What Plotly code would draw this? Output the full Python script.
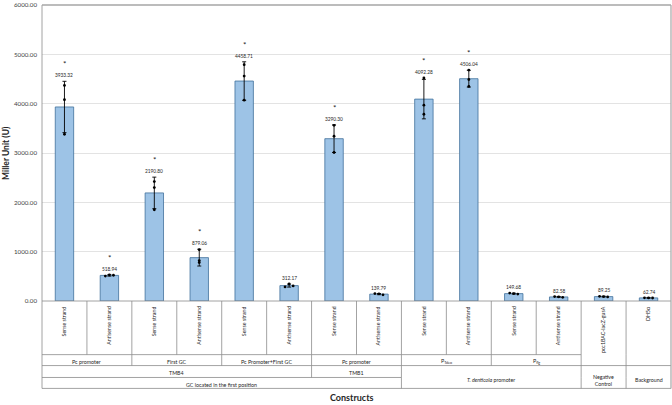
import plotly.graph_objects as go

# ---- data ----
strands = ["Sense strand", "Antisense strand"] * 6 + ["pcc1BAC-lacZ-gusA", "DH5α"]
means = [3933.32, 518.94, 2190.80, 879.06, 4458.71, 312.17, 3290.30, 139.79,
         4092.28, 4506.04, 149.68, 82.58, 89.25, 62.74]
errors = [520, 15, 320, 170, 390, 30, 280, 12, 400, 170, 10, 8, 8, 5]
rep1 = [4370, 505, 2420, 1040, 4790, 285, 3560, 150, 4520, 4680, 160, 90, 95, 64]
rep2 = [4080, 530, 2300, 820, 4560, 345, 3340, 145, 3970, 4490, 150, 85, 90, 63]
rep3 = [3380, 522, 1850, 780, 4070, 305, 3010, 125, 3785, 4350, 140, 75, 82, 61]
significant = [True, True, True, True, True, False, True, False,
               True, True, False, False, False, False]
level2 = [("Pc promoter", 0, 2), ("First GC", 2, 4), ("Pc Promoter+First GC", 4, 6),
          ("Pc promoter", 6, 8), ("P<sub>Tdeo</sub>", 8, 10), ("P<sub>flg</sub>", 10, 12)]
level3 = [("TMB4", 0, 6), ("TMB1", 6, 8)]
level4 = [("GC located in the first position", 0, 8)]
merged34 = [("<i>T. denticola</i> promoter", 8, 12), ("Negative<br>Control", 12, 13),
            ("Background", 13, 14)]
yticks = [0, 1000, 2000, 3000, 4000, 5000, 6000]

W, H = 672, 405
ML, MR, MT, MB = 42, 1, 3, 104
n = len(means)
FONT = "Lato, Calibri, 'Liberation Sans', sans-serif"

xs = list(range(n))
fig = go.Figure()
fig.add_trace(go.Bar(
    x=xs, y=means, width=0.41,
    marker=dict(color="#9DC3E6", line=dict(color="#41719C", width=0.8)),
    error_y=dict(type="data", array=errors, visible=True, color="black",
                 thickness=0.9, width=2),
    showlegend=False, hoverinfo="y"))

# spread replicate dots sideways only where they would overlap vertically
reps = [rep1, rep2, rep3]
spread = []
for i in xs:
    vals = [r[i] for r in reps]
    spread.append(0.09 if max(vals) - min(vals) < 200 else 0.0)
for j, rep in enumerate(reps):
    fig.add_trace(go.Scatter(
        x=[i + (j - 1) * spread[i] for i in xs], y=rep, mode="markers",
        marker=dict(color="black", size=2.8), showlegend=False, hoverinfo="y"))

ph = H - MT - MB


def py(p):  # pixel y -> paper y
    return (H - MB - p) / ph


def px(k):  # category boundary index -> paper x
    return k / n


anns = []
shapes = []
for i in xs:
    top = max(means[i] + errors[i], rep1[i], rep2[i], rep3[i])
    anns.append(dict(x=i, y=top, xref="x", yref="y", text=f"{means[i]:.2f}",
                     showarrow=False, xanchor="center", yanchor="middle", yshift=6,
                     font=dict(size=4.8, color="#262626", family=FONT)))
    if significant[i]:
        anns.append(dict(x=i, y=top, xref="x", yref="y", text="*",
                         showarrow=False, xanchor="center", yanchor="middle", yshift=17,
                         font=dict(size=8, color="#262626", family=FONT)))
    anns.append(dict(x=i, y=py(304), xref="x", yref="paper", text=strands[i],
                     textangle=-90, showarrow=False, yanchor="top", xanchor="center",
                     font=dict(size=5.3, color="#262626", family=FONT)))

yA, yB, yC, yD = 355, 366, 378, 389
for group, p0, p1, dy in [(level2, yA, yB, 1.5), (level3, yB, yC, 1.0),
                          (level4, yC, yD, 1.8), (merged34, yB, yD, 3.5)]:
    for t, a, b in group:
        anns.append(dict(x=(px(a) + px(b)) / 2, y=py((p0 + p1) / 2 + dy), xref="paper",
                         yref="paper", text=t, showarrow=False, xanchor="center",
                         yanchor="middle", align="center",
                         font=dict(size=5.3, color="#262626", family=FONT)))

LC = "#8C8C8C"


def hline(p, a, b, color=LC, w=0.8):
    shapes.append(dict(type="line", xref="paper", yref="paper", x0=px(a), x1=px(b),
                       y0=py(p), y1=py(p), line=dict(color=color, width=w)))


def vline(k, p0, p1, color=LC, w=0.8):
    shapes.append(dict(type="line", xref="paper", yref="paper", x0=px(k), x1=px(k),
                       y0=py(p0), y1=py(p1), line=dict(color=color, width=w)))


base = H - MB
hline(base, 0, n)
hline(yA, 0, 12)
hline(yB, 0, n)
hline(yC, 0, 8)
hline(yD, 0, n)
for k in range(1, n):
    vline(k, base, yA)
for k in [2, 4, 6, 8, 10, 12, 13]:
    vline(k, yA, yB)
for k in [6, 8, 12, 13]:
    vline(k, yB, yC)
for k in [8, 12, 13]:
    vline(k, yC, yD)
vline(0, MT, yD)
shapes.append(dict(type="line", xref="paper", yref="paper", x0=0, x1=1, y0=1, y1=1,
                   line=dict(color="#A6A6A6", width=1.5)))
shapes.append(dict(type="line", xref="paper", yref="paper", x0=1, x1=1, y0=1, y1=py(yD),
                   line=dict(color="#A6A6A6", width=1.2)))

anns.append(dict(x=(6 - ML) / (W - ML - MR), y=0.5, xref="paper", yref="paper",
                 text="<b>Miller Unit (U)</b>", textangle=-90, showarrow=False,
                 xanchor="center", yanchor="middle",
                 font=dict(size=8.5, color="#262626", family=FONT)))
anns.append(dict(x=(352 - ML) / (W - ML - MR), y=py(398), xref="paper", yref="paper",
                 text="<b>Constructs</b>", showarrow=False,
                 xanchor="center", yanchor="middle",
                 font=dict(size=9, color="#262626", family=FONT)))

fig.update_layout(
    width=W, height=H, margin=dict(l=ML, r=MR, t=MT, b=MB),
    plot_bgcolor="white", paper_bgcolor="white",
    xaxis=dict(range=[-0.5, n - 0.5], showticklabels=False, showgrid=False,
               zeroline=False, ticks=""),
    yaxis=dict(range=[0, 6000], tickvals=yticks, tickformat=".2f",
               gridcolor="#E3E3E3", gridwidth=0.8, zeroline=False, ticks="",
               tickfont=dict(size=6.2, color="#404040", family=FONT), ticklabelstandoff=4,
               ticklabeloverflow="allow"),
    shapes=shapes, annotations=anns, bargap=0.5,
)
fig.write_html("out.html", config={"displayModeBar": False},
               post_script="document.body.style.margin='0';document.body.style.overflow='hidden';")
